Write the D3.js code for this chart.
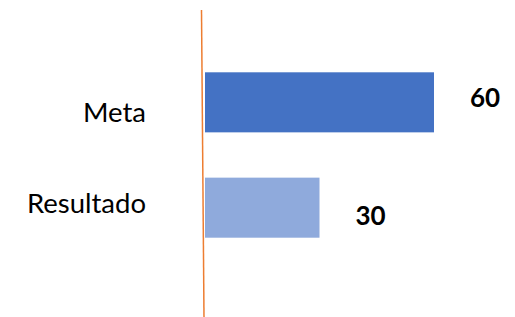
<!DOCTYPE html>
<html>
<head>
<meta charset="utf-8">
<script src="https://cdn.jsdelivr.net/npm/d3@7"></script>
<style>
  body { margin: 0; background: #fff; }
  svg { display: block; }
</style>
</head>
<body>
<svg width="515" height="317"></svg>
<script>
// chart data
var categories = ["Meta", "Resultado"];
var values = [60, 30];
var barColors = ["#4472C4", "#8FAADC"];

var svg = d3.select("svg"),
    width = +svg.attr("width"),
    height = +svg.attr("height");

var x = d3.scaleLinear().domain([0, 60]).range([205, 434]);

var y = d3.scaleBand()
    .domain(categories)
    .range([27, 283])
    .padding(0.43);

var g = svg.append("g");

// bars
g.selectAll("rect.bar")
    .data(categories)
    .enter().append("rect")
    .attr("class", "bar")
    .attr("x", x(0))
    .attr("y", function(d) { return y(d); })
    .attr("width", function(d, i) { return x(values[i]) - x(0); })
    .attr("height", y.bandwidth())
    .attr("fill", function(d, i) { return barColors[i]; });

// value axis line (orange, slightly slanted like the original)
g.append("line")
    .attr("x1", x(0) - 3.5)
    .attr("y1", 10)
    .attr("x2", x(0) - 1)
    .attr("y2", height)
    .style("stroke", "#ED7D31")
    .style("stroke-width", 1.5);

// category labels
g.selectAll("text.cat")
    .data(categories)
    .enter().append("text")
    .attr("class", "cat")
    .attr("x", 146)
    .attr("y", function(d, i) { return y(d) + y.bandwidth() / 2 + (i === 0 ? 10 : -4); })
    .attr("dy", "0.35em")
    .attr("text-anchor", "end")
    .style("font-family", "Lato, 'Open Sans', sans-serif")
    .style("font-size", "27.5px")
    .style("fill", "#000")
    .text(function(d) { return d; });

// value labels
g.selectAll("text.val")
    .data(categories)
    .enter().append("text")
    .attr("class", "val")
    .attr("x", function(d, i) { return x(values[i]) + 36; })
    .attr("y", function(d, i) { return y(d) + y.bandwidth() / 2 + (i === 0 ? -4 : 8); })
    .attr("dy", "0.35em")
    .style("font-family", "Lato, 'Open Sans', sans-serif")
    .style("font-weight", "bold")
    .style("font-size", "26px")
    .style("fill", "#000")
    .text(function(d, i) { return values[i]; });
</script>
</body>
</html>
